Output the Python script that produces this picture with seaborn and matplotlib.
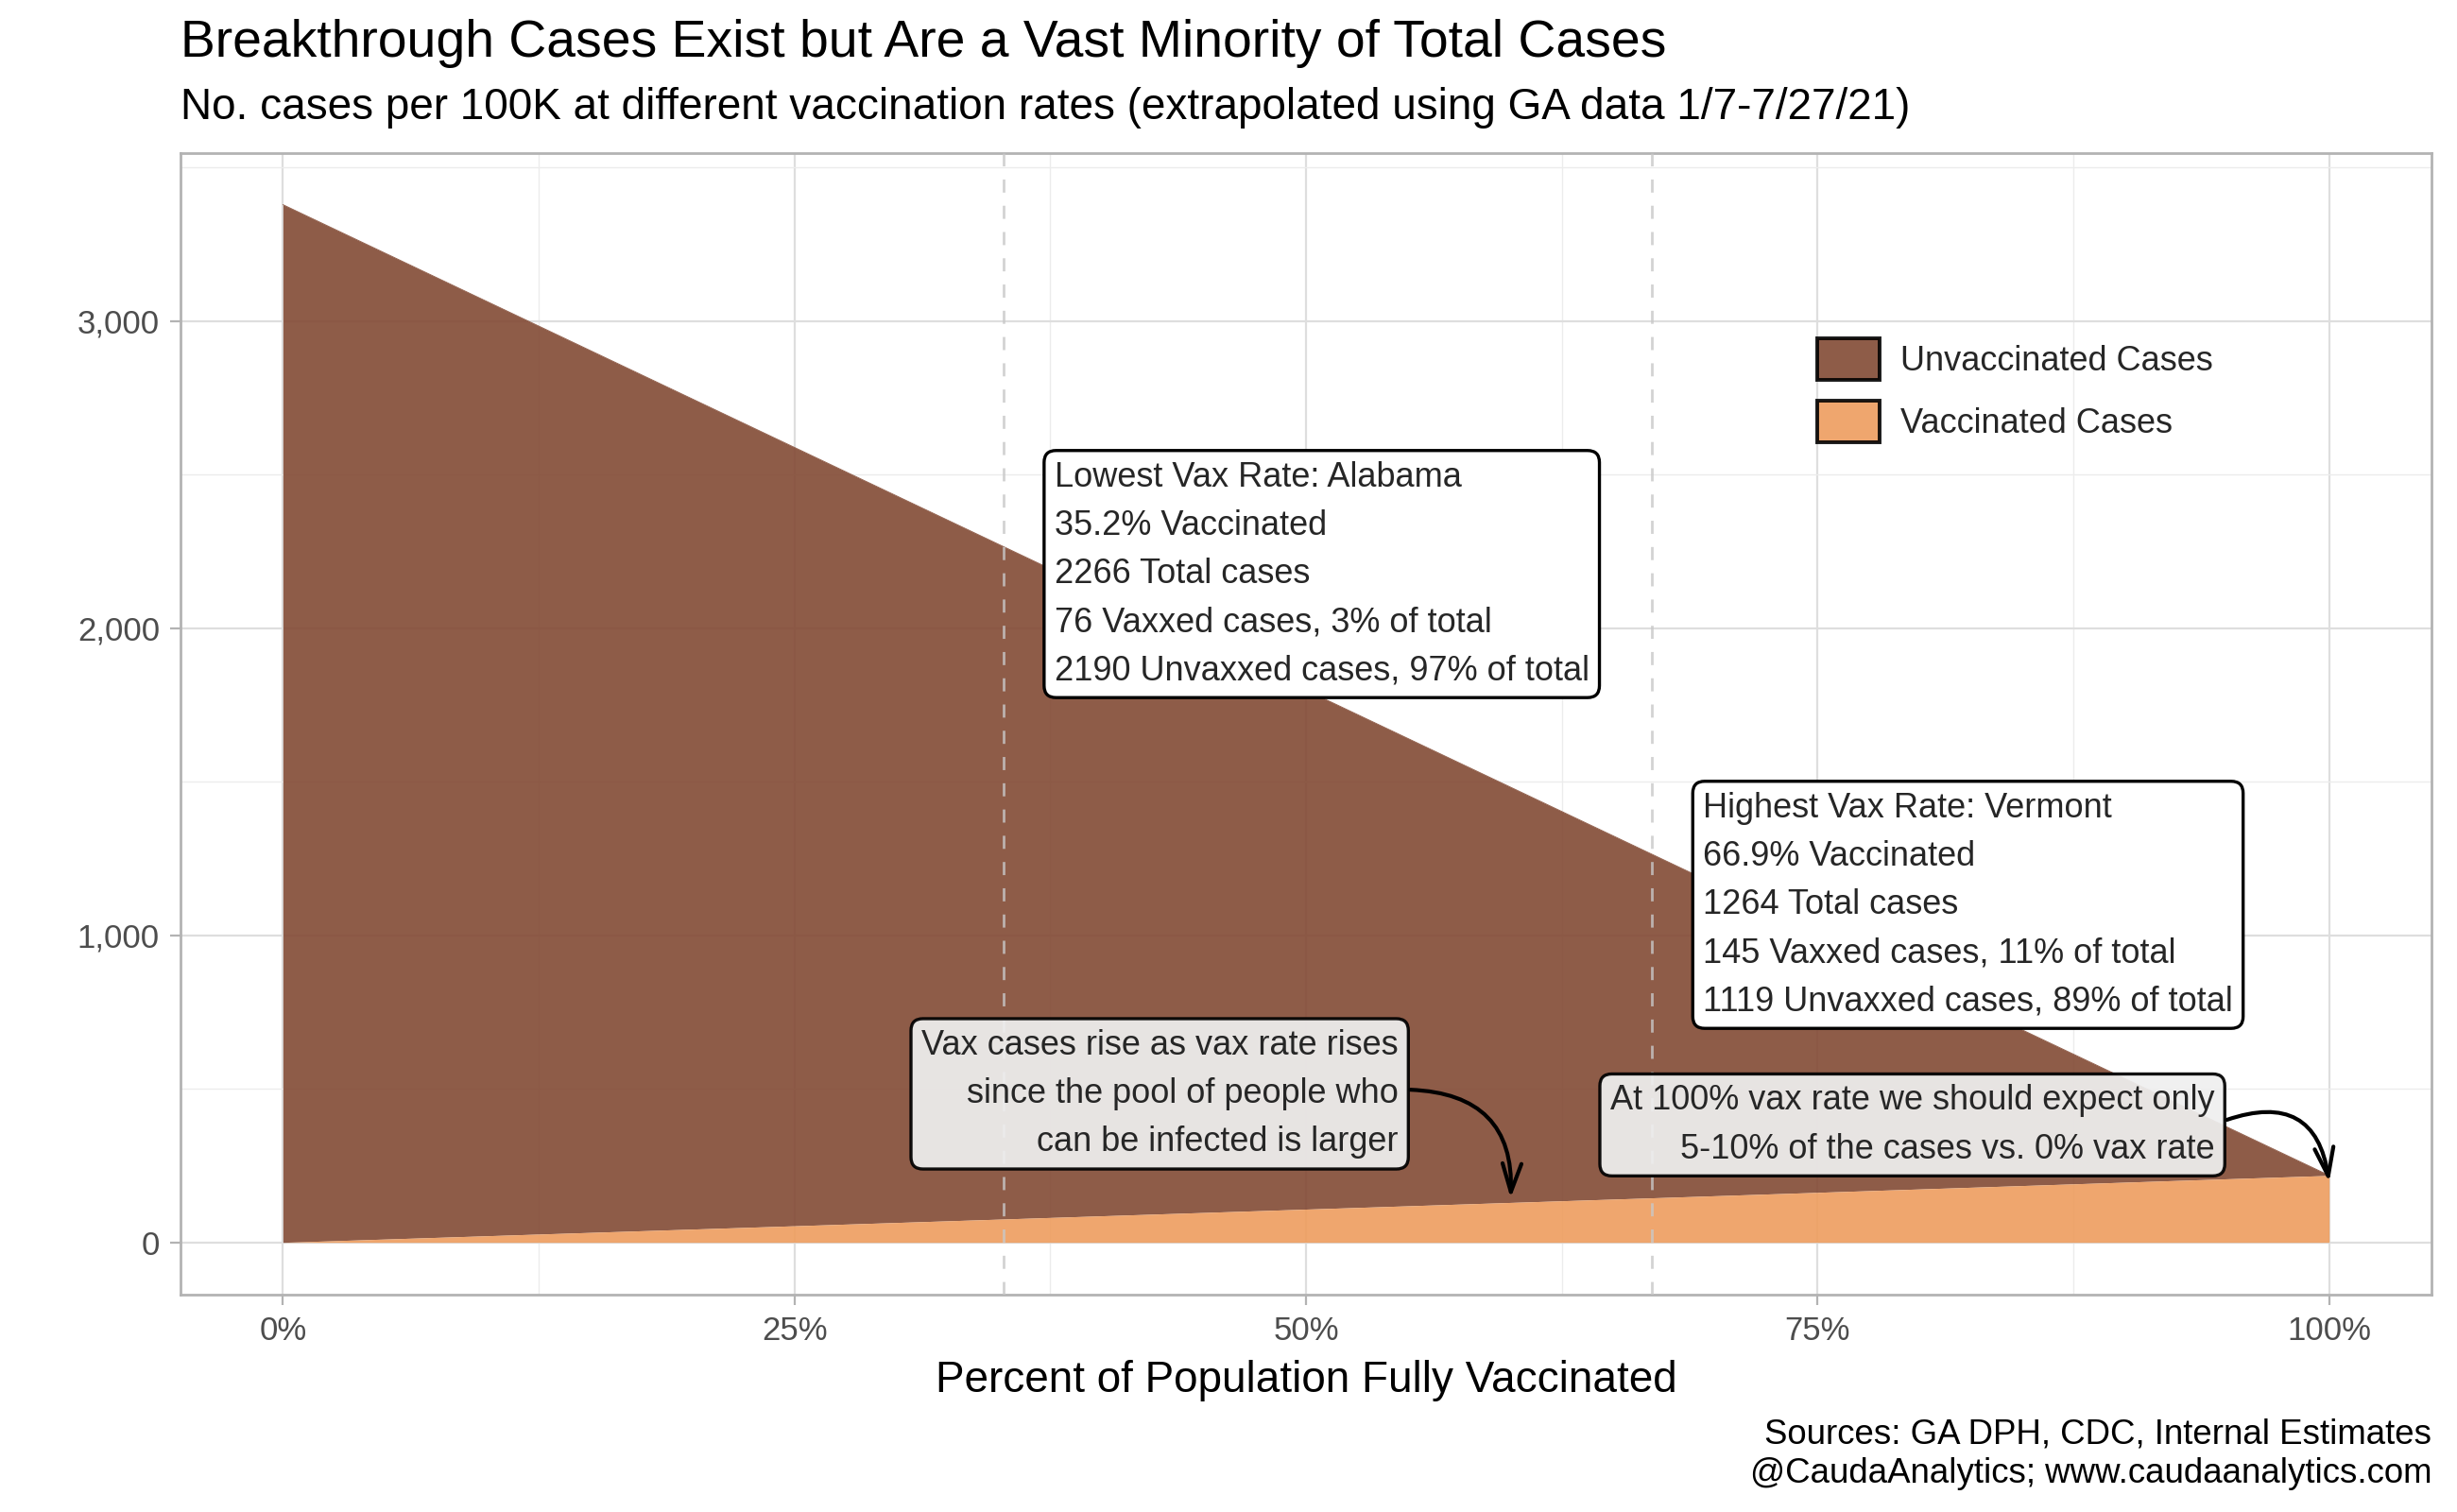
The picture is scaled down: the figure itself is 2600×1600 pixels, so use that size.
import numpy as np
import pandas as pd
import seaborn as sns
import matplotlib.pyplot as plt
from matplotlib.patches import Patch
from matplotlib.ticker import FuncFormatter, MultipleLocator

# Values (cases per 100K)
vax_pct = [0.0, 0.352, 0.669, 1.0]
total_cases = [3379, 2266, 1264, 218]
vaxxed_cases = [0, 76, 145, 218]

state_rates = [0.352, 0.669]

title = "Breakthrough Cases Exist but Are a Vast Minority of Total Cases"
subtitle = "No. cases per 100K at different vaccination rates (extrapolated using GA data 1/7-7/27/21)"
caption = "Sources: GA DPH, CDC, Internal Estimates\n@CaudaAnalytics; www.caudaanalytics.com"

al_text = ("Lowest Vax Rate: Alabama\n35.2% Vaccinated\n2266 Total cases\n"
           "76 Vaxxed cases, 3% of total\n2190 Unvaxxed cases, 97% of total")
vt_text = ("Highest Vax Rate: Vermont\n66.9% Vaccinated\n1264 Total cases\n"
           "145 Vaxxed cases, 11% of total\n1119 Unvaxxed cases, 89% of total")
rise_text = "Vax cases rise as vax rate rises\nsince the pool of people who\ncan be infected is larger"
full_text = "At 100% vax rate we should expect only\n5-10% of the cases vs. 0% vax rate"

df = pd.DataFrame({"pct": vax_pct, "total": total_cases, "vaxxed": vaxxed_cases})

sns.set_theme(style="whitegrid")
plt.rcParams['font.family'] = ['Liberation Sans', 'DejaVu Sans']

brown = "#824a34"
orange = "#ee9d5e"

fig, ax = plt.subplots(figsize=(13, 8), dpi=200)
fig.subplots_adjust(left=0.0735, right=0.9896, top=0.899, bottom=0.144)

# stacked areas
ax.fill_between(df["pct"], df["vaxxed"], df["total"], color=brown, alpha=0.9, lw=0, zorder=2)
ax.fill_between(df["pct"], 0, df["vaxxed"], color=orange, alpha=0.9, lw=0, zorder=2)
sns.lineplot(data=df, x="pct", y="total", color=brown, alpha=0.9, lw=0.3, ax=ax, zorder=2)

for r in state_rates:
    ax.axvline(r, color="#c8c8c8", ls=(0, (5, 5)), lw=1.0, alpha=0.8, zorder=3)

ax.set_xlim(-0.05, 1.05)
ax.set_ylim(-169, 3548)
ax.xaxis.set_major_locator(MultipleLocator(0.25))
ax.xaxis.set_minor_locator(MultipleLocator(0.125))
ax.yaxis.set_major_locator(MultipleLocator(1000))
ax.yaxis.set_minor_locator(MultipleLocator(500))
ax.xaxis.set_major_formatter(FuncFormatter(lambda v, p: f"{v*100:.0f}%"))
ax.yaxis.set_major_formatter(FuncFormatter(lambda v, p: f"{v:,.0f}"))

ax.grid(which="major", color="#dedede", lw=0.8)
ax.grid(which="minor", color="#ececec", lw=0.5)
ax.set_axisbelow(True)
for s in ax.spines.values():
    s.set_color("#b3b3b3")
    s.set_linewidth(1.0)
ax.tick_params(axis="both", which="major", length=4, width=0.8, color="#b3b3b3",
               labelsize=12.5, labelcolor="#4d4d4d", pad=4, bottom=True, left=True)
ax.tick_params(which="minor", length=0)

ax.set_xlabel("Percent of Population Fully Vaccinated", fontsize=16.5, color="black", labelpad=5)
ax.set_ylabel("")

# annotations
box_kw = dict(boxstyle="round,pad=0.3,rounding_size=0.35", ec="black", lw=1.2)
ax.text(0.377, 2545, al_text, ha="left", va="top", fontsize=13, linespacing=1.6, zorder=6,
        bbox=dict(fc="white", **box_kw))
ax.text(0.694, 1468, vt_text, ha="left", va="top", fontsize=13, linespacing=1.6, zorder=6,
        bbox=dict(fc="white", **box_kw))
ax.text(0.545, 695, rise_text, ha="right", va="top", fontsize=13, linespacing=1.6,
        multialignment="right", zorder=6, bbox=dict(fc="#efefef", alpha=0.93, **box_kw))
ax.text(0.944, 515, full_text, ha="right", va="top", fontsize=13, linespacing=1.6,
        multialignment="right", zorder=6, bbox=dict(fc="#efefef", alpha=0.93, **box_kw))

ax.annotate("", xy=(0.60, 144), xytext=(0.551, 497), zorder=7,
            arrowprops=dict(arrowstyle="->,head_length=0.9,head_width=0.3", lw=1.5, color="black",
                            connectionstyle="arc3,rad=-0.5", shrinkA=0, shrinkB=0))
ax.annotate("", xy=(1.0, 196), xytext=(0.950, 399), zorder=7,
            arrowprops=dict(arrowstyle="->,head_length=0.9,head_width=0.3", lw=1.5, color="black",
                            connectionstyle="arc3,rad=-0.6", shrinkA=0, shrinkB=0))

handles = [Patch(facecolor=brown, alpha=0.9, edgecolor="black", lw=1.4, label="Unvaccinated Cases"),
           Patch(facecolor=orange, alpha=0.9, edgecolor="black", lw=1.4, label="Vaccinated Cases")]
ax.legend(handles=handles, loc="upper left", bbox_to_anchor=(1923 / 2600, 1 - 358 / 1600),
          bbox_transform=fig.transFigure, frameon=False, fontsize=13, borderpad=0, borderaxespad=0,
          handlelength=1.83, handleheight=1.5, labelspacing=0.62, handletextpad=0.6)

fig.text(191 / 2600, 1 - 20 / 1600, title, ha="left", va="top", fontsize=19.9, color="black")
fig.text(191 / 2600, 1 - 92 / 1600, subtitle, ha="left", va="top", fontsize=16.5, color="black")
fig.text(2573 / 2600, 1 - 1500 / 1600, caption, ha="right", va="top", fontsize=13.2, color="black",
         linespacing=1.25)

fig.savefig("out.png", dpi=200)
